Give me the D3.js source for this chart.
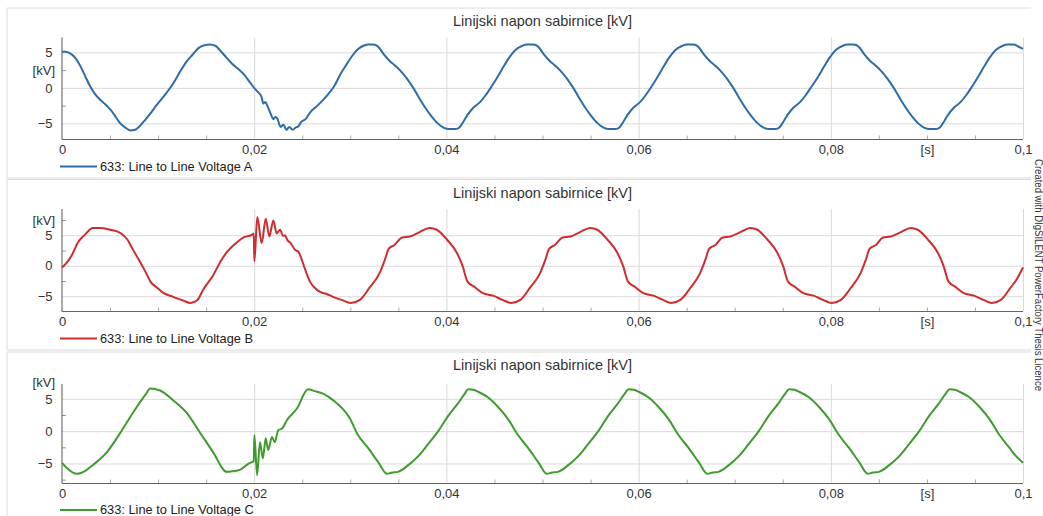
<!DOCTYPE html>
<html>
<head>
<meta charset="utf-8">
<script src="https://cdn.jsdelivr.net/npm/d3@7"></script>
<style>
  body { margin: 0; background: #fff; }
  svg { display: block; font-family: "Liberation Sans", Arial, sans-serif; }
</style>
</head>
<body>
<svg id="canvas" width="1043" height="516"></svg>
<script>
// data: [time in ms, voltage in kV]
const chartTitle = "Linijski napon sabirnice [kV]";
const timeTicks = [0, 0.02, 0.04, 0.06, 0.08, 0.1];
const voltTicks = [-5, 0, 5];
const legendNames = ["633: Line to Line Voltage A", "633: Line to Line Voltage B", "633: Line to Line Voltage C"];
const lineColors = ["#2e6ba8", "#cf2c30", "#3f9a2f"];

const pointsA = [
  [0,5.1],[0.4,5.1],[0.8,4.9],[1.4,4.2],[1.9,3.1],[2.4,1.7],[2.9,0.3],[3.4,-0.8],[4.0,-1.7],[4.5,-2.3],
  [5.0,-3.0],[5.5,-3.9],[6.0,-4.9],[6.6,-5.6],[7.1,-6.0],[7.6,-5.9],[8.0,-5.5],[8.6,-4.6],[9.2,-3.6],[9.8,-2.5],
  [10.4,-1.5],[11.1,-0.3],[11.7,0.9],[12.3,2.3],[12.9,3.6],[13.6,4.7],[14.2,5.6],[14.8,6.0],[15.4,6.1],[16.0,5.9],
  [16.5,5.2],[17.1,4.3],[17.7,3.4],[18.4,2.6],[19.0,1.8],[19.6,0.7],[20.0,0.0],
  [20.4,-0.6],[20.75,-1.2],[20.95,-2.2],[21.15,-2.0],[21.4,-2.6],[21.7,-3.6],[22.0,-4.4],[22.2,-4.1],[22.4,-4.3],
  [22.75,-5.5],[23.05,-5.2],[23.35,-5.9],[23.65,-5.5],[24.0,-5.9],[24.3,-5.6],[24.6,-5.4],[24.9,-4.8],[25.35,-4.4],
  [25.85,-3.4],[26.5,-2.6],[27.1,-1.8],[27.75,-0.8],[28.35,0.3],[29.0,2.0],[29.6,3.3],[30.25,4.6],[30.85,5.5],[31.5,6.0],
  [31.8,6.1],[32.4,6.1],[32.9,5.8],[33.45,4.8],[34.1,3.8],[34.7,3.1],[35.3,2.3],[35.95,1.2],[36.6,-0.1],[37.2,-1.5],
  [37.8,-2.8],[38.45,-4.0],[39.1,-5.0],[39.7,-5.6],[40.3,-5.8],[40.95,-5.8],[41.4,-5.5],[41.8,-4.7],[42.2,-3.8],[42.8,-2.8],
  [43.5,-2.0],[44.1,-1.0],[44.7,0.2],[45.35,1.6],[45.95,3.0],[46.55,4.3],[47.15,5.3],[47.85,5.9],[48.45,6.1],
  [49.05,6.1],[49.55,5.8],[50.1,4.8],[50.75,3.8],[51.35,3.1],[51.95,2.3],[52.6,1.2],[53.25,-0.1],[53.85,-1.5],[54.45,-2.8],
  [55.1,-4.0],[55.75,-5.0],[56.35,-5.6],[56.95,-5.8],[57.6,-5.8],[58.05,-5.5],[58.45,-4.7],[58.85,-3.8],[59.45,-2.8],
  [60.15,-2.0],[60.75,-1.0],[61.35,0.2],
  [62.0,1.6],[62.6,3.0],[63.2,4.3],[63.8,5.3],[64.5,5.9],[65.1,6.1],[65.7,6.1],[66.2,5.8],[66.75,4.8],[67.4,3.8],
  [68.0,3.1],[68.6,2.3],[69.25,1.2],[69.9,-0.1],[70.5,-1.5],[71.1,-2.8],[71.75,-4.0],[72.4,-5.0],[73.0,-5.6],[73.6,-5.8],
  [74.25,-5.8],[74.7,-5.5],[75.1,-4.7],[75.5,-3.8],[76.1,-2.8],[76.8,-2.0],[77.4,-1.0],[78.0,0.2],
  [78.7,1.6],[79.3,3.0],[79.9,4.3],[80.5,5.3],[81.2,5.9],[81.8,6.1],[82.4,6.1],[82.9,5.8],[83.45,4.8],[84.1,3.8],
  [84.7,3.1],[85.3,2.3],[85.95,1.2],[86.6,-0.1],[87.2,-1.5],[87.8,-2.8],[88.45,-4.0],[89.1,-5.0],[89.7,-5.6],[90.3,-5.8],
  [90.95,-5.8],[91.4,-5.5],[91.8,-4.7],[92.2,-3.8],[92.8,-2.8],[93.5,-2.0],[94.1,-1.0],[94.7,0.2],
  [95.35,1.6],[95.95,3.0],[96.55,4.3],[97.15,5.3],[97.85,5.9],[98.45,6.1],[99.05,6.1],[99.55,5.8],[100,5.5]
];

const pointsB = [
  [0,-0.3],[0.5,0.5],[1.05,1.8],[1.65,3.8],[2.4,5.1],[3.2,6.2],[4.0,6.2],[5.0,5.9],[6.05,5.4],[6.8,4.3],
  [7.4,2.6],[8.1,0.7],[8.85,-1.5],[9.2,-2.6],[9.9,-3.6],[10.5,-4.4],[11.55,-5.1],[12.6,-5.7],[13.35,-6.1],[14.1,-5.6],
  [14.7,-3.9],[15.75,-1.5],[16.5,0.7],[17.2,2.3],[18.25,3.9],[18.85,4.6],[19.8,5.1],[19.95,5.3],
  [20.02,0.7],[20.32,8.0],[20.78,3.7],[21.2,7.7],[21.57,4.8],[21.99,7.4],[22.34,5.3],[22.69,5.9],[23.0,4.9],[23.2,5.0],
  [23.45,4.2],[23.75,3.8],[24.0,3.2],[24.25,2.6],[24.6,2.3],[24.9,1.2],[25.3,-0.6],[25.8,-2.6],[26.3,-3.6],[26.85,-4.3],
  [27.5,-4.6],[28.2,-5.1],[29.1,-5.6],
  [30.05,-6.1],[31.0,-5.6],[32.0,-3.6],[33.05,-1.2],[33.6,1.0],[34.0,2.8],[34.6,3.4],[35.35,4.6],[36.2,4.8],[37.2,5.5],
  [38.25,6.2],[39.0,5.9],[40.05,4.3],[41.1,2.1],[41.7,-0.1],[42.2,-2.6],[42.95,-3.5],[43.8,-4.5],[44.85,-4.9],[45.85,-5.6],
  [46.75,-6.1],[47.7,-5.6],[48.7,-3.6],[49.75,-1.2],[50.3,1.0],[50.7,2.8],[51.3,3.4],[52.05,4.6],[52.9,4.8],[53.9,5.5],
  [54.95,6.2],[55.7,5.9],[56.75,4.3],[57.8,2.1],[58.4,-0.1],[58.9,-2.6],[59.65,-3.5],[60.5,-4.5],[61.55,-4.9],[62.55,-5.6],
  [63.4,-6.1],[64.35,-5.6],[65.4,-3.6],[66.4,-1.2],[66.95,1.0],[67.35,2.8],[68.0,3.4],[68.7,4.6],[69.55,4.8],[70.6,5.5],
  [71.6,6.2],[72.35,5.9],[73.4,4.3],[74.45,2.1],[75.05,-0.1],[75.55,-2.6],[76.3,-3.5],[77.15,-4.5],[78.2,-4.9],[79.2,-5.6],
  [80.1,-6.1],[81.05,-5.6],[82.1,-3.6],[83.1,-1.2],[83.65,1.0],[84.05,2.8],[84.7,3.4],[85.4,4.6],[86.25,4.8],[87.3,5.5],
  [88.3,6.2],[89.05,5.9],[90.1,4.3],[91.15,2.1],[91.75,-0.1],[92.25,-2.6],[93.0,-3.5],[93.85,-4.5],[94.9,-4.9],[95.9,-5.6],
  [96.75,-6.1],[97.7,-5.6],[98.7,-3.6],[99.35,-2.2],[100,-0.3]
];

const pointsC = [
  [0,-4.9],[0.5,-5.7],[1.55,-6.6],[2.1,-6.4],[3.25,-5.2],[4.7,-3.2],[6.05,-0.3],[7.4,2.9],[8.85,6.0],[9.15,6.6],
  [10.2,6.3],[11.55,4.8],[13.0,2.8],[14.35,-0.2],[15.7,-3.2],[17.15,-6.3],[17.8,-6.2],[18.5,-6.0],[19.55,-4.9],[19.95,-4.7],
  [20.02,-0.6],[20.3,-6.8],[20.6,-1.7],[20.9,-4.2],[21.2,-1.1],[21.45,-2.9],[21.85,-0.9],[22.15,-1.7],[22.5,0.15],[22.9,0.4],
  [23.4,1.7],[24.45,3.5],[25.6,6.5],[26.3,6.2],[27.15,5.8],[28.2,4.8],[29.95,2.0],
  [30.8,-0.6],[31.85,-2.6],[32.9,-4.8],[33.82,-6.6],[34.35,-6.4],[34.95,-6.3],[36.0,-5.3],[37.05,-3.9],[38.1,-2.0],
  [39.15,0.0],[40.15,2.3],[41.2,4.3],[41.95,5.9],
  [42.25,6.5],[42.8,6.4],[43.3,6.1],[44.35,5.2],[45.4,3.7],[46.4,1.9],[47.45,-0.6],[48.5,-2.6],[49.55,-4.8],[50.45,-6.6],
  [51.0,-6.4],[51.6,-6.3],[52.65,-5.3],[53.7,-3.9],[54.75,-2.0],[55.8,0.0],[56.8,2.3],[57.85,4.3],[58.6,5.9],
  [58.95,6.5],[59.5,6.4],[60.0,6.1],[61.05,5.2],[62.1,3.7],[63.1,1.9],[64.15,-0.6],[65.2,-2.6],[66.25,-4.8],[67.15,-6.6],
  [67.7,-6.4],[68.3,-6.3],[69.35,-5.3],[70.4,-3.9],[71.45,-2.0],[72.5,0.0],[73.5,2.3],[74.55,4.3],[75.3,5.9],
  [75.65,6.5],[76.2,6.4],[76.7,6.1],[77.75,5.2],[78.8,3.7],[79.8,1.9],[80.85,-0.6],[81.9,-2.6],[82.95,-4.8],[83.85,-6.6],
  [84.4,-6.4],[85.0,-6.3],[86.05,-5.3],[87.1,-3.9],[88.15,-2.0],[89.2,0.0],[90.2,2.3],[91.25,4.3],[92.0,5.9],
  [92.35,6.5],[92.9,6.4],[93.4,6.1],[94.45,5.2],[95.5,3.7],[96.5,1.9],[97.55,-0.6],[98.6,-2.6],[99.3,-3.9],[100,-4.9]
];

// panel layout (pixels) and y ranges of each subplot
let panels = [
  { data: pointsA, frameTop: 8, frameBottom: 178, titleY: 21, top: 37.5, bottom: 139.5, yDomain: [-7.27, 7.1], unitAt: 2.5, legendY: 166.5 },
  { data: pointsB, frameTop: 179.5, frameBottom: 350, titleY: 193, top: 209, bottom: 311.5, yDomain: [-7.5, 9.3], unitAt: 7.5, legendY: 338.5 },
  { data: pointsC, frameTop: 352, frameBottom: 530, titleY: 365, top: 384, bottom: 483.5, yDomain: [-8.1, 7.3], unitAt: 7.6, legendY: 510 }
];

let canvas = d3.select("#canvas");
let x = d3.scaleLinear().domain([0, 0.1]).range([62, 1023]);

let commaFormat = (d) => d === 0 ? "0" : String(+d.toFixed(3)).replace(".", ",");

let minorTimes = d3.range(1, 20).filter((k) => k % 4 !== 0).map((k) => k * 0.005);

panels.forEach((p, i) => {
  let y = d3.scaleLinear().domain(p.yDomain).range([p.bottom, p.top]);
  let g = canvas.append("g");

  // panel frame (open on the right)
  g.append("path")
    .attr("d", `M1031,${p.frameTop}H7V${p.frameBottom}H1031`)
    .attr("fill", "none")
    .attr("stroke", "#dcdcdc");

  g.append("text")
    .attr("x", 542.5)
    .attr("y", p.titleY)
    .attr("dy", "0.35em")
    .attr("text-anchor", "middle")
    .style("font-size", "14.5px")
    .attr("fill", "#333")
    .text(chartTitle);

  // horizontal gridlines + y labels
  let yAxis = g.append("g")
    .attr("transform", "translate(62,0)")
    .call(d3.axisLeft(y).tickValues(voltTicks).tickSizeInner(-961).tickSizeOuter(0).tickPadding(9.5));
  yAxis.select(".domain").remove();
  yAxis.selectAll("line").attr("stroke", "#d9d9d9");
  yAxis.selectAll("text").style("font-size", "13px").attr("fill", "#333").attr("font-family", null);

  // minor y ticks
  let yMinor = g.append("g")
    .attr("transform", "translate(62,0)")
    .call(d3.axisLeft(y).tickValues([-7.5, -2.5, 2.5, 7.5].filter((v) => v > p.yDomain[0] && v < p.yDomain[1]))
      .tickSizeInner(-4).tickSizeOuter(0).tickFormat(""));
  yMinor.select(".domain").remove();
  yMinor.selectAll("line").attr("stroke", "#999");

  // vertical gridlines
  let xGrid = g.append("g")
    .attr("transform", `translate(0,${p.bottom})`)
    .call(d3.axisBottom(x).tickValues(timeTicks.slice(1)).tickSizeInner(-(p.bottom - p.top)).tickSizeOuter(0).tickFormat(""));
  xGrid.select(".domain").remove();
  xGrid.selectAll("line").attr("stroke", "#d9d9d9");

  // minor x ticks
  let xMinor = g.append("g")
    .attr("transform", `translate(0,${p.bottom})`)
    .call(d3.axisBottom(x).tickValues(minorTimes).tickSizeInner(-4).tickSizeOuter(0).tickFormat(""));
  xMinor.select(".domain").remove();
  xMinor.selectAll("line").attr("stroke", "#aaa");

  // x labels incl. the unit in place of 0.09
  let xLabels = g.append("g")
    .attr("transform", `translate(0,${p.bottom})`)
    .call(d3.axisBottom(x).tickValues(timeTicks.concat([0.09])).tickSize(0).tickPadding(5)
      .tickFormat((d) => d === 0.09 ? "[s]" : commaFormat(d)));
  xLabels.select(".domain").remove();
  xLabels.selectAll("text").style("font-size", "13px").attr("fill", "#333").attr("font-family", null);

  // axis lines
  g.append("line")
    .attr("x1", x(0)).attr("x2", x(0.1))
    .attr("y1", p.bottom).attr("y2", p.bottom)
    .attr("stroke", "#666");
  g.append("line")
    .attr("x1", x(0)).attr("x2", x(0))
    .attr("y1", p.top).attr("y2", p.bottom)
    .attr("stroke", "#555");

  g.append("text")
    .attr("x", 55)
    .attr("y", y(p.unitAt))
    .attr("dy", "0.35em")
    .attr("text-anchor", "end")
    .style("font-size", "13px")
    .attr("fill", "#333")
    .text("[kV]");

  let line = d3.line()
    .x((d) => x(d[0] / 1000))
    .y((d) => y(d[1]))
    .curve(d3.curveMonotoneX);

  g.append("path")
    .datum(p.data)
    .attr("d", line)
    .attr("fill", "none")
    .attr("stroke", lineColors[i])
    .attr("stroke-width", 2)
    .attr("stroke-linejoin", "round");

  // legend
  g.append("line")
    .attr("x1", 60).attr("x2", 97)
    .attr("y1", p.legendY).attr("y2", p.legendY)
    .attr("stroke", lineColors[i])
    .attr("stroke-width", 2);
  g.append("text")
    .attr("x", 100)
    .attr("y", p.legendY)
    .attr("dy", "0.35em")
    .style("font-size", "12.8px")
    .attr("fill", "#222")
    .text(legendNames[i]);
});

canvas.append("text")
  .attr("transform", "translate(1034.5,159) rotate(90)")
  .attr("textLength", 232)
  .attr("lengthAdjust", "spacingAndGlyphs")
  .style("font-size", "10.5px")
  .attr("fill", "#333")
  .text("Created with DIgSILENT PowerFactory Thesis Licence");
</script>
</body>
</html>
